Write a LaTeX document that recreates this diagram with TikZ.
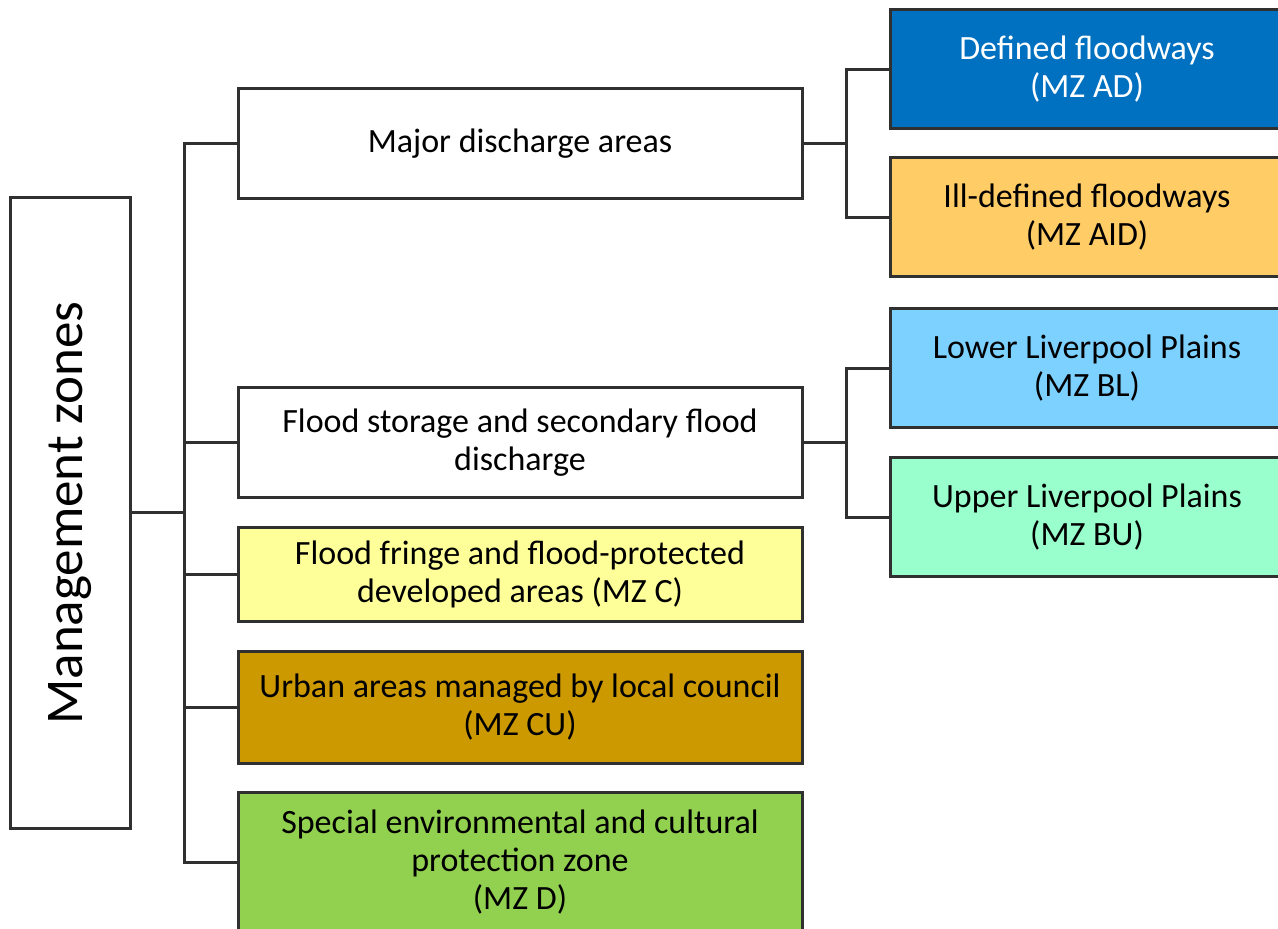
\documentclass[tikz,border=0pt]{standalone}
\usepackage{fontspec}
\setmainfont{Carlito}
\definecolor{lineC}{HTML}{303030}
\definecolor{cAD}{HTML}{0070C0}
\definecolor{cAID}{HTML}{FFCC66}
\definecolor{cBL}{HTML}{7DD1FF}
\definecolor{cBU}{HTML}{99FFCC}
\definecolor{cC}{HTML}{FFFF99}
\definecolor{cCU}{HTML}{CC9900}
\definecolor{cD}{HTML}{92D050}
\tikzset{
  zbox/.style={draw=lineC, line width=1.5pt, inner sep=0pt, align=center,
    font=\fontsize{17}{19}\selectfont},
  midbox/.style={zbox, minimum width=282pt, minimum height=55pt},
  rbox/.style={zbox, minimum width=197pt, minimum height=59.5pt},
  conn/.style={draw=lineC, line width=1.5pt}
}
\begin{document}
\begin{tikzpicture}[x=0.5pt, y=-0.5pt]
\useasboundingbox (0,0) rectangle (1278,929);
\begin{scope}
\clip (0,0) rectangle (1278,929);
% root
\node[zbox, minimum width=60pt, minimum height=315pt, fill=white] (root) at (70,513) {};
\node[rotate=90, font=\fontsize{26.5}{30}\selectfont] (rootlabel) at (70,513) {Management zones};
% middle column
\node[midbox, fill=white] (mda) at (520,144) {Major discharge areas};
\node[midbox, fill=white] (fsd) at (520,443) {Flood storage and secondary flood\\discharge};
\node[midbox, fill=cC, minimum height=46.5pt] (mzc) at (520,574.5) {Flood fringe and flood-protected\\developed areas (MZ C)};
\node[midbox, fill=cCU, minimum height=56pt] (mzcu) at (520,707) {Urban areas managed by local council\\(MZ CU)};
\node[midbox, fill=cD, minimum height=70pt] (mzd) at (520,862) {Special environmental and cultural\\protection zone\\(MZ D)};
% right column
\node[rbox, fill=cAD, text=white] (mzad) at (1087,69.5) {Defined floodways\\(MZ AD)};
\node[rbox, fill=cAID] (mzaid) at (1087,217.5) {Ill-defined floodways\\(MZ AID)};
\node[rbox, fill=cBL] (mzbl) at (1087,368.5) {Lower Liverpool Plains\\(MZ BL)};
\node[rbox, fill=cBU] (mzbu) at (1087,517.5) {Upper Liverpool Plains\\(MZ BU)};
% connectors
\coordinate (j0) at (184,513);
\draw[conn] (root.east) -- (j0);
\draw[conn] (j0) |- (mda.west);
\draw[conn] (j0) |- (fsd.west);
\draw[conn] (j0) |- (mzc.west);
\draw[conn] (j0) |- (mzcu.west);
\draw[conn] (j0) |- (mzd.west);
\coordinate (j1) at (846,144);
\draw[conn] (mda.east) -- (j1);
\draw[conn] (j1) |- (mzad.west);
\draw[conn] (j1) |- (mzaid.west);
\coordinate (j2) at (846,443);
\draw[conn] (fsd.east) -- (j2);
\draw[conn] (j2) |- (mzbl.west);
\draw[conn] (j2) |- (mzbu.west);
\end{scope}
\end{tikzpicture}
\end{document}
